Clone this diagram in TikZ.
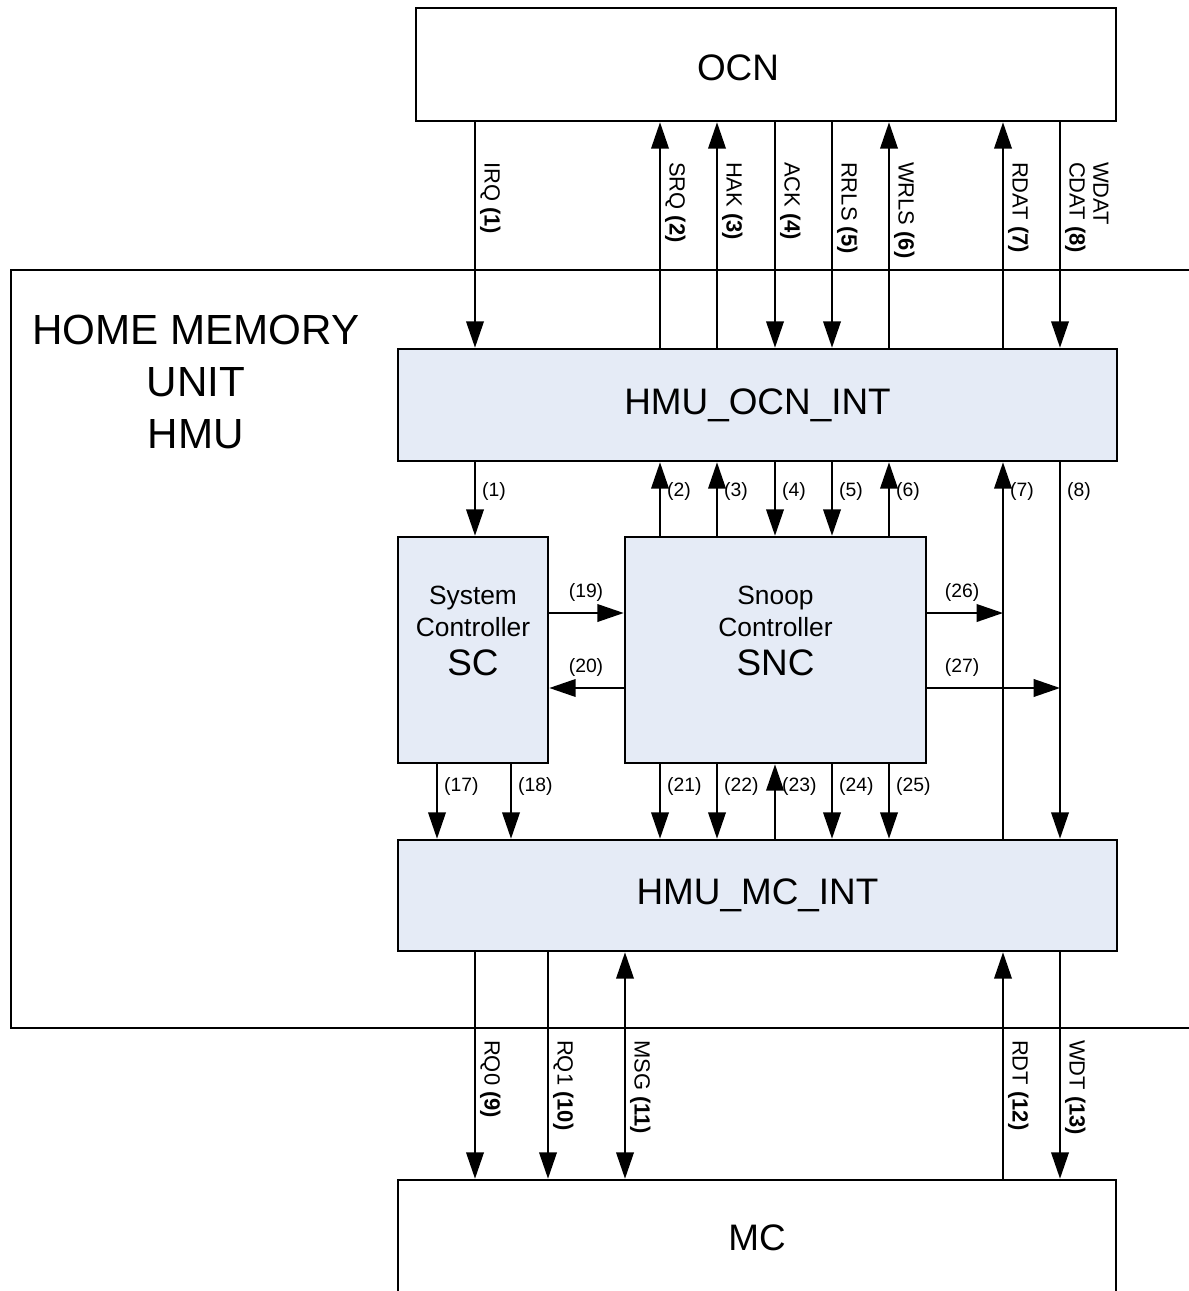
\documentclass[tikz,border=0pt]{standalone}
\usepackage{fontspec}
\setmainfont{Liberation Sans}
\usetikzlibrary{arrows.meta, positioning, calc}
\definecolor{blkfill}{HTML}{E5EBF6}

\tikzset{
  box/.style={draw, line width=1.5pt, fill=white, inner sep=0pt},
  blk/.style={box, fill=blkfill},
  frame/.style={line width=1.5pt},
  sig/.style={line width=1.1pt, -{Triangle[length=15pt, width=10pt]}},
  bisig/.style={line width=1.1pt, {Triangle[length=15pt, width=10pt]}-{Triangle[length=15pt, width=10pt]}},
  vlbl/.style={rotate=-90, anchor=south west, inner sep=1pt, align=left, font=\fontsize{12.5}{13.5}\selectfont},
  nlbl/.style={anchor=west, inner sep=1pt, font=\fontsize{11}{12.5}\selectfont},
  big/.style={font=\fontsize{21}{25}\selectfont},
}

\begin{document}
\begin{tikzpicture}[x=0.02cm, y=-0.02cm]
\useasboundingbox (0,0) rectangle (1189,1291);

% signal columns
\coordinate (irq) at (475,0);
\coordinate (srq) at (660,0);
\coordinate (hak) at (717,0);
\coordinate (ack) at (775,0);
\coordinate (rrls) at (832,0);
\coordinate (wrls) at (889,0);
\coordinate (rdat) at (1003,0);
\coordinate (wdat) at (1060,0);
\coordinate (s17) at (437,0);
\coordinate (s18) at (511,0);
\coordinate (rq1) at (548,0);
\coordinate (msg) at (625,0);

% home memory unit frame
\draw[frame] (1200,270) -- (11,270) -- (11,1028) -- (1200,1028);
\node[align=center, font=\fontsize{24}{29.6}\selectfont] (hmulbl) at (196,382) {HOME MEMORY\\UNIT\\HMU};

% blocks
\node[box, minimum width=14cm, minimum height=2.26cm] (ocn) at (766,64.5) {};
\node[big] (ocnlbl) at (738,68) {OCN};
\node[blk, big, minimum width=14.38cm, minimum height=2.24cm] (ocnint) at (757.5,405) {HMU\_OCN\_INT};
\node[blk, minimum width=3cm, minimum height=4.52cm] (sc) at (473,650) {};
\node[align=center, font=\fontsize{15}{18.2}\selectfont] (sctxt) at (473,611) {System\\Controller};
\node[big] (scabbr) at (473,663) {SC};
\node[blk, minimum width=6.02cm, minimum height=4.52cm] (snc) at (775.5,650) {};
\node[align=center, font=\fontsize{15}{18.2}\selectfont] (snctxt) at (775.5,611) {Snoop\\Controller};
\node[big] (sncabbr) at (775.5,663) {SNC};
\node[blk, big, minimum width=14.38cm, minimum height=2.22cm] (mcint) at (757.5,895.5) {HMU\_MC\_INT};
\node[box, big, minimum width=14.36cm, minimum height=2.32cm] (mc) at (757,1238) {MC};

% OCN <-> HMU_OCN_INT
\draw[sig] (ocn.south -| irq) -- (ocnint.north -| irq);
\draw[sig] (ocnint.north -| srq) -- (ocn.south -| srq);
\draw[sig] (ocnint.north -| hak) -- (ocn.south -| hak);
\draw[sig] (ocn.south -| ack) -- (ocnint.north -| ack);
\draw[sig] (ocn.south -| rrls) -- (ocnint.north -| rrls);
\draw[sig] (ocnint.north -| wrls) -- (ocn.south -| wrls);
\draw[sig] (ocnint.north -| rdat) -- (ocn.south -| rdat);
\draw[sig] (ocn.south -| wdat) -- (ocnint.north -| wdat);
\node[vlbl] (lirq) at (478,160) {IRQ \textbf{(1)}};
\node[vlbl] (lsrq) at (663,160) {SRQ \textbf{(2)}};
\node[vlbl] (lhak) at (720,160) {HAK \textbf{(3)}};
\node[vlbl] (lack) at (778,160) {ACK \textbf{(4)}};
\node[vlbl] (lrrls) at (835,160) {RRLS \textbf{(5)}};
\node[vlbl] (lwrls) at (892,160) {WRLS \textbf{(6)}};
\node[vlbl] (lrdat) at (1006,160) {RDAT \textbf{(7)}};
\node[vlbl] (lwdat) at (1063,160) {WDAT\\CDAT \textbf{(8)}};

% HMU_OCN_INT <-> SC, SNC, HMU_MC_INT
\draw[sig] (ocnint.south -| irq) -- (sc.north -| irq);
\draw[sig] (snc.north -| srq) -- (ocnint.south -| srq);
\draw[sig] (snc.north -| hak) -- (ocnint.south -| hak);
\draw[sig] (ocnint.south -| ack) -- (snc.north -| ack);
\draw[sig] (ocnint.south -| rrls) -- (snc.north -| rrls);
\draw[sig] (snc.north -| wrls) -- (ocnint.south -| wrls);
\draw[sig] (mcint.north -| rdat) -- (ocnint.south -| rdat);
\draw[sig] (ocnint.south -| wdat) -- (mcint.north -| wdat);
\node[nlbl] (n1) at (480,491) {(1)};
\node[nlbl] (n2) at (665,491) {(2)};
\node[nlbl] (n3) at (722,491) {(3)};
\node[nlbl] (n4) at (780,491) {(4)};
\node[nlbl] (n5) at (837,491) {(5)};
\node[nlbl] (n6) at (894,491) {(6)};
\node[nlbl] (n7) at (1008,491) {(7)};
\node[nlbl] (n8) at (1065,491) {(8)};

% SC <-> SNC, SNC -> columns
\path ([yshift=0.74cm]snc.east) coordinate (o26);
\path ([yshift=-0.76cm]snc.east) coordinate (o27);
\draw[sig] ([yshift=0.74cm]sc.east) -- ([yshift=0.74cm]snc.west);
\draw[sig] ([yshift=-0.76cm]snc.west) -- ([yshift=-0.76cm]sc.east);
\draw[sig] (o26) -- (o26 -| rdat);
\draw[sig] (o27) -- (o27 -| wdat);
\node[nlbl, anchor=center] (n19) at (586,592) {(19)};
\node[nlbl, anchor=center] (n20) at (586,667) {(20)};
\node[nlbl, anchor=center] (n26) at (962,592) {(26)};
\node[nlbl, anchor=center] (n27) at (962,667) {(27)};

% SC, SNC <-> HMU_MC_INT
\draw[sig] (sc.south -| s17) -- (mcint.north -| s17);
\draw[sig] (sc.south -| s18) -- (mcint.north -| s18);
\draw[sig] (snc.south -| srq) -- (mcint.north -| srq);
\draw[sig] (snc.south -| hak) -- (mcint.north -| hak);
\draw[sig] (mcint.north -| ack) -- (snc.south -| ack);
\draw[sig] (snc.south -| rrls) -- (mcint.north -| rrls);
\draw[sig] (snc.south -| wrls) -- (mcint.north -| wrls);
\node[nlbl] (n17) at (442,786) {(17)};
\node[nlbl] (n18) at (516,786) {(18)};
\node[nlbl] (n21) at (665,786) {(21)};
\node[nlbl] (n22) at (722,786) {(22)};
\node[nlbl] (n23) at (780,786) {(23)};
\node[nlbl] (n24) at (837,786) {(24)};
\node[nlbl] (n25) at (894,786) {(25)};

% HMU_MC_INT <-> MC
\draw[sig] (mcint.south -| irq) -- (mc.north -| irq);
\draw[sig] (mcint.south -| rq1) -- (mc.north -| rq1);
\draw[bisig] (mcint.south -| msg) -- (mc.north -| msg);
\draw[sig] (mc.north -| rdat) -- (mcint.south -| rdat);
\draw[sig] (mcint.south -| wdat) -- (mc.north -| wdat);
\node[vlbl] (lrq0) at (478,1038) {RQ0 \textbf{(9)}};
\node[vlbl] (lrq1) at (551,1038) {RQ1 \textbf{(10)}};
\node[vlbl] (lmsg) at (628,1038) {MSG \textbf{(11)}};
\node[vlbl] (lrdt) at (1006,1038) {RDT \textbf{(12)}};
\node[vlbl] (lwdt) at (1063,1038) {WDT \textbf{(13)}};
\end{tikzpicture}
\end{document}
